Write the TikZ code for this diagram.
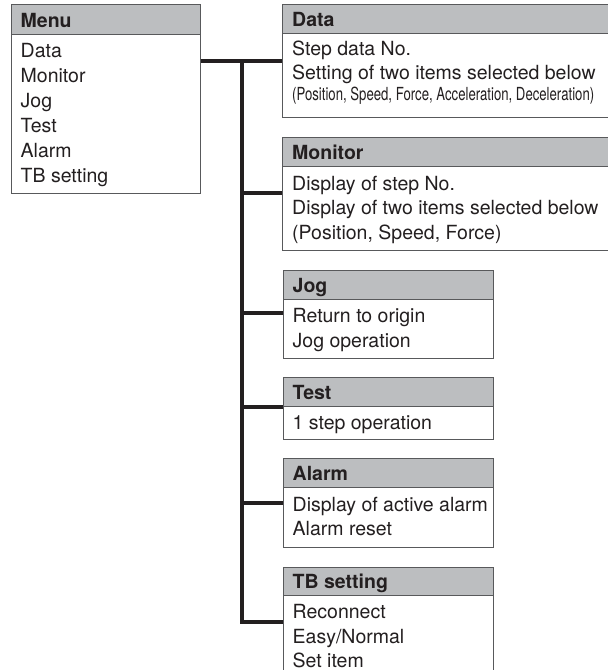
\documentclass[tikz,border=0pt]{standalone}
\usepackage{fontspec}
\setmainfont{TeX Gyre Heros}
\usepackage{graphicx}
\usetikzlibrary{fit}
\definecolor{ink}{HTML}{231F20}
\definecolor{headc}{HTML}{BCBEC0}
\definecolor{edgec}{HTML}{58595B}
\begin{document}
\begin{tikzpicture}[x=1pt,y=-1pt,
  boxpart/.style={draw=edgec, line width=1pt, inner sep=0pt, rectangle},
  headpart/.style={boxpart, fill=headc},
  bodypart/.style={boxpart, fill=white},
  txt/.style={anchor=base west, inner sep=0pt, text=ink, font=\fontsize{19.5}{23}\selectfont},
  ttl/.style={txt, font=\fontsize{19.5}{23}\selectfont\bfseries},
  wire/.style={draw=ink, line width=3.5pt, line join=miter},
]
\useasboundingbox (0,0) rectangle (608,670);
\clip (0,0) rectangle (608,670);
\fill[white] (0,0) rectangle (608,670);

% Menu
\node[bodypart, fit={(11,34) (200,193)}] (menubody) {};
\node[headpart, fit={(11,4) (200,34)}] (menuhead) {};
\node[ttl] (menut) at (20.5,27) {Menu};
\foreach \t [count=\i] in {Data,Monitor,Jog,Test,Alarm,TB setting}
  \node[txt] (menu\i) at (20.5,{57.5+(\i-1)*25}) {\t};

% Data
\node[bodypart, fit={(282,33) (615,117)}] (databody) {};
\node[headpart, fit={(282,4) (615,33)}] (datahead) {};
\node[ttl] (datat) at (292,26.5) {Data};
\node[txt] (data1) at (292,55.5) {Step data No.};
\node[txt] (data2) at (292,79.5) {Setting of two items selected below};
\node[txt, font=\fontsize{18}{20}\selectfont] (data3) at (292,100)
  {\resizebox{302pt}{\height}{(Position, Speed, Force, Acceleration, Deceleration)}};

% Monitor
\node[bodypart, fit={(282,166) (615,250)}] (monbody) {};
\node[headpart, fit={(282,137) (615,166)}] (monhead) {};
\node[ttl] (mont) at (292,159.5) {Monitor};
\node[txt] (mon1) at (292,190) {Display of step No.};
\node[txt] (mon2) at (292,214.5) {Display of two items selected below};
\node[txt] (mon3) at (292,239) {(Position, Speed, Force)};

% Jog
\node[bodypart, fit={(283,299) (493,358)}] (jogbody) {};
\node[headpart, fit={(283,270) (493,299)}] (joghead) {};
\node[ttl] (jogt) at (292.5,292.5) {Jog};
\node[txt] (jog1) at (292.5,322.5) {Return to origin};
\node[txt] (jog2) at (292.5,347) {Jog operation};

% Test
\node[bodypart, fit={(283,406) (493,439)}] (testbody) {};
\node[headpart, fit={(283,377) (493,406)}] (testhead) {};
\node[ttl] (testt) at (292.5,399.5) {Test};
\node[txt] (test1) at (292.5,429.5) {1 step operation};

% Alarm
\node[bodypart, fit={(283,487) (493,547)}] (almbody) {};
\node[headpart, fit={(283,458) (493,487)}] (almhead) {};
\node[ttl] (almt) at (292.5,480.5) {Alarm};
\node[txt] (alm1) at (292.5,511) {Display of active alarm};
\node[txt] (alm2) at (292.5,535.5) {Alarm reset};

% TB setting
\node[bodypart, fit={(283,595) (493,700)}] (tbbody) {};
\node[headpart, fit={(283,567) (493,595)}] (tbhead) {};
\node[ttl] (tbt) at (292.5,588) {TB setting};
\node[txt] (tb1) at (292.5,618.5) {Reconnect};
\node[txt] (tb2) at (292.5,643.5) {Easy/Normal};
\node[txt] (tb3) at (292.5,667.5) {Set item};

% Connectors
\coordinate (trunktop) at (242,61);
\coordinate (trunkbot) at (242,622);
\coordinate (bmon) at (242,193);
\coordinate (bjog) at (242,313);
\coordinate (btest) at (242,407);
\coordinate (balm) at (242,503);
\draw[wire] (menubody.east |- trunktop) -- (databody.west |- trunktop);
\draw[wire] (trunktop) -- (trunkbot) -- (tbbody.west |- trunkbot);
\draw[wire] (bmon) -- (monbody.west |- bmon);
\draw[wire] (bjog) -- (jogbody.west |- bjog);
\draw[wire] (btest) -- (testbody.west |- btest);
\draw[wire] (balm) -- (almbody.west |- balm);
\end{tikzpicture}
\end{document}
